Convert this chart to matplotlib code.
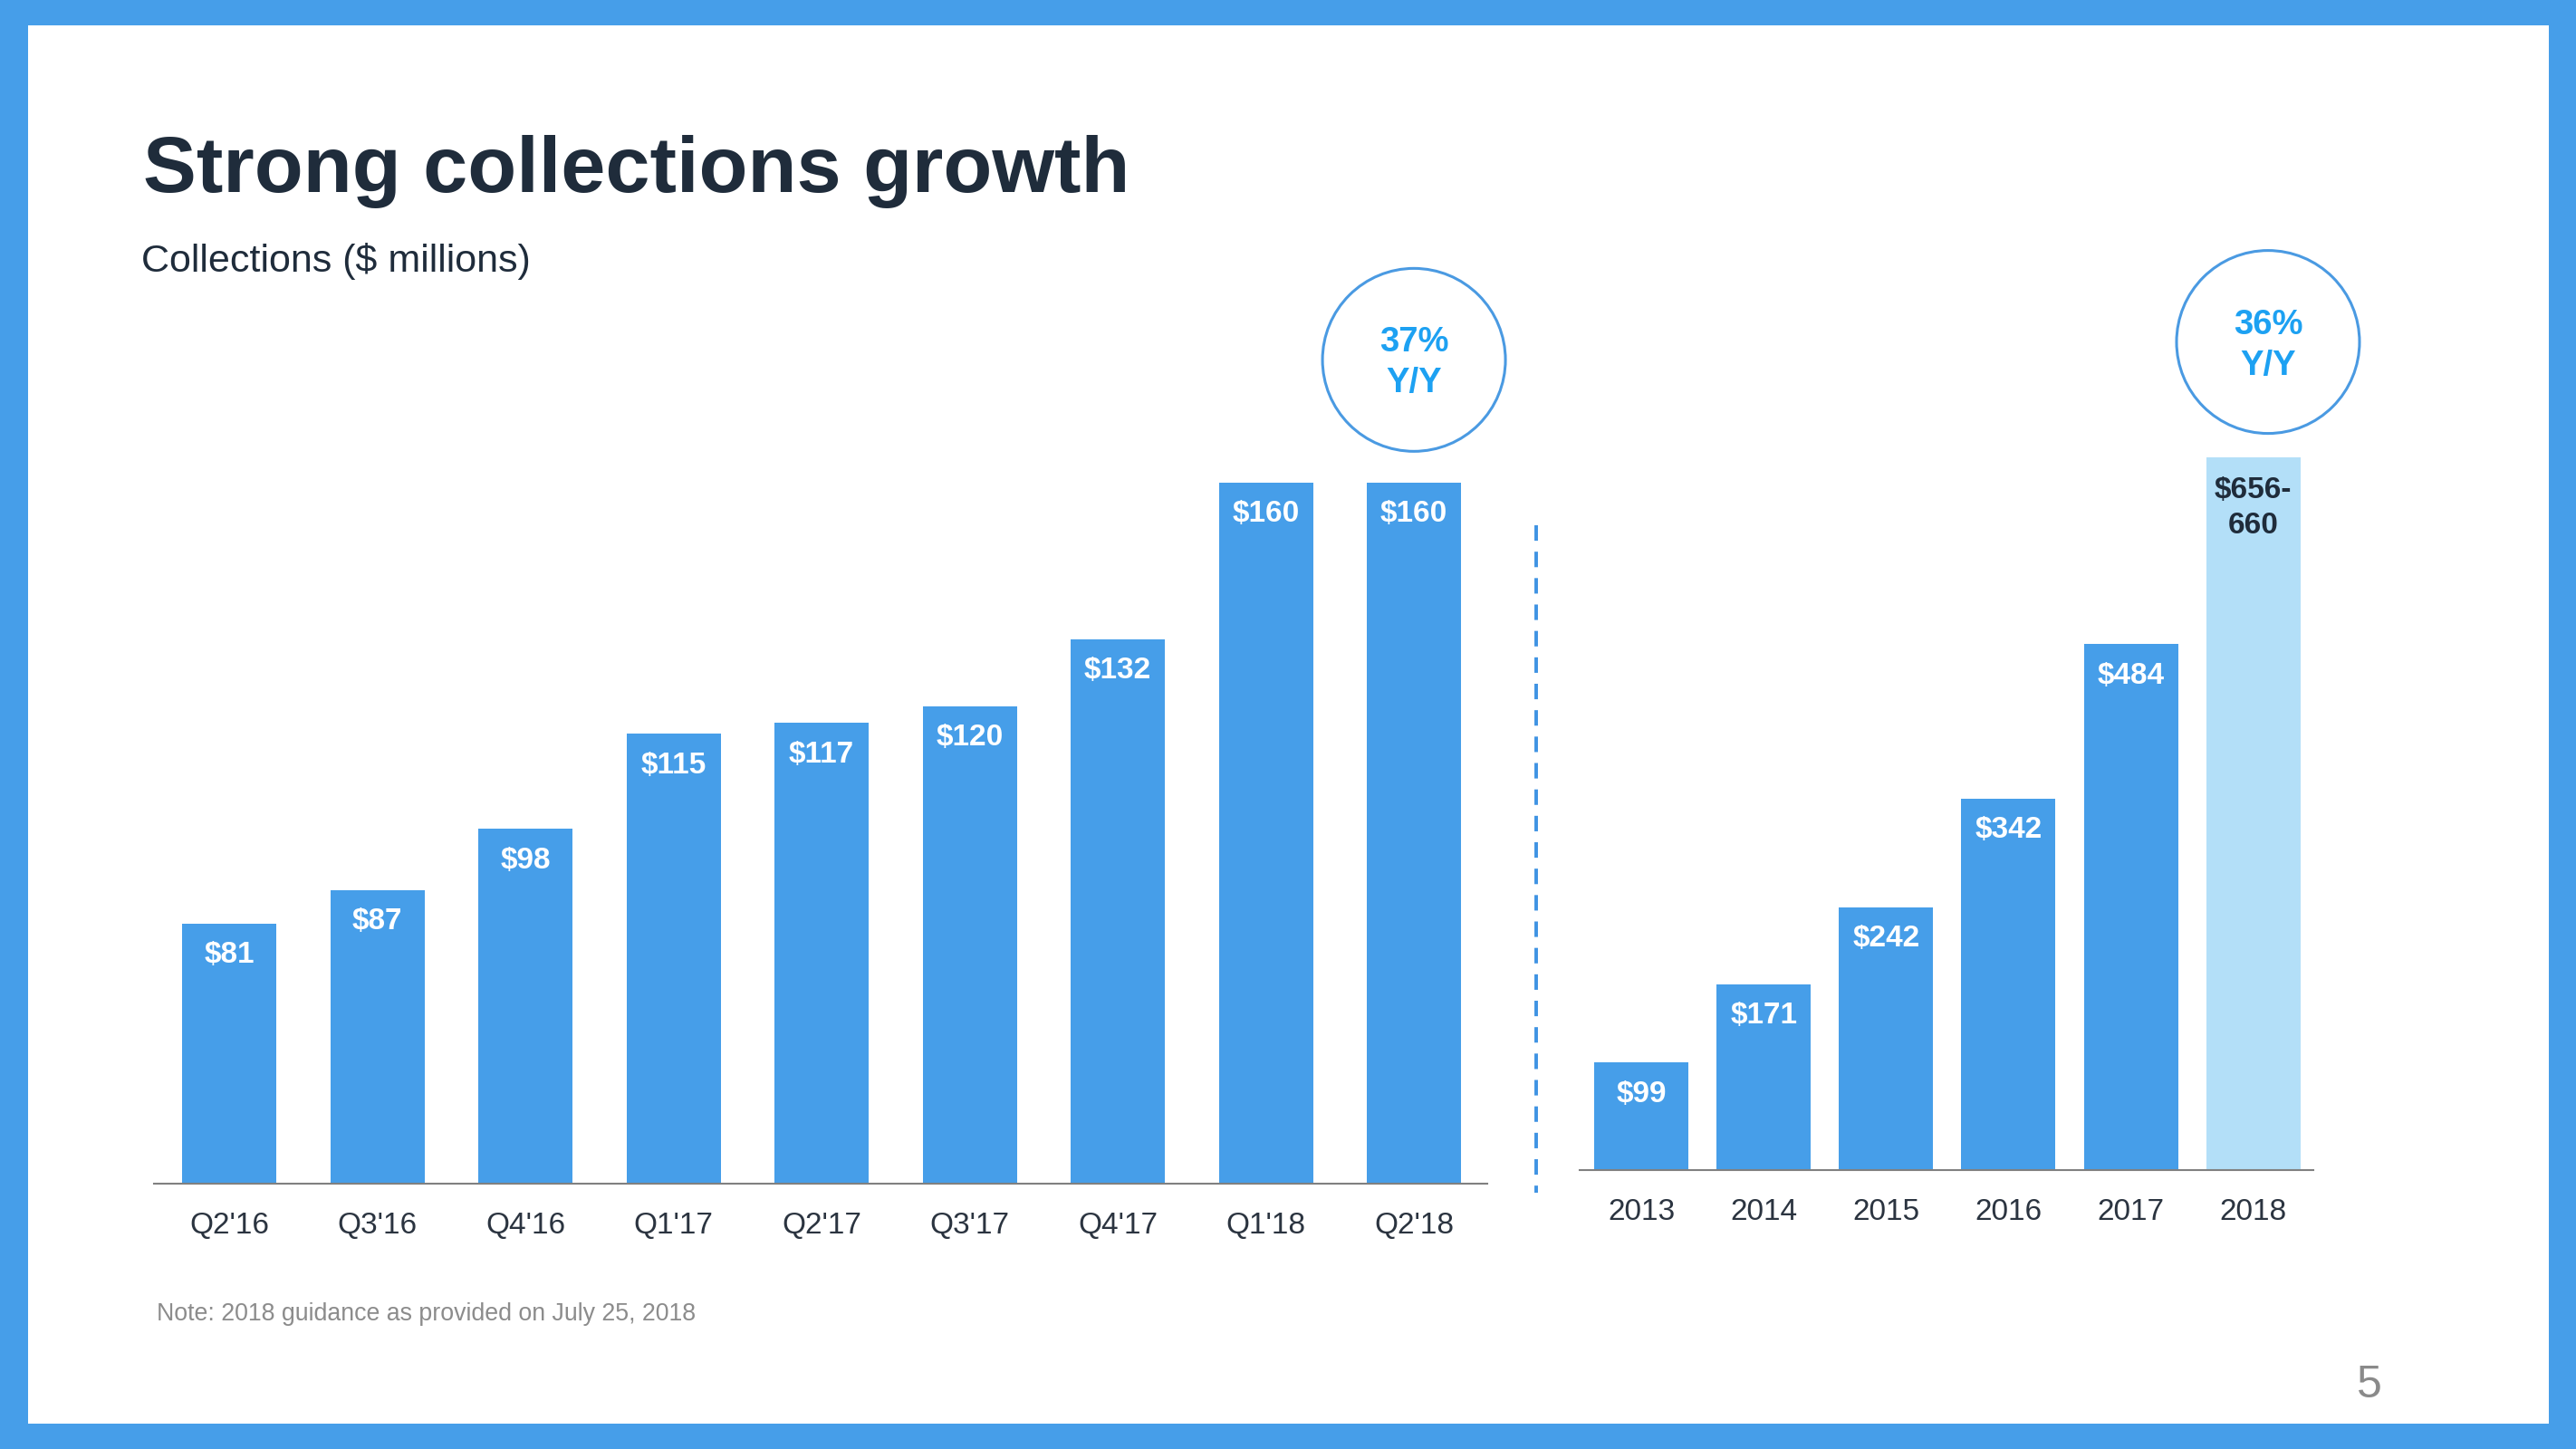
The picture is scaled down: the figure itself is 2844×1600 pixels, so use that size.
import matplotlib
matplotlib.use("Agg")
import matplotlib.pyplot as plt
from matplotlib.patches import Rectangle

# quarterly collections ($M)
quarters = ["Q2'16", "Q3'16", "Q4'16", "Q1'17", "Q2'17", "Q3'17", "Q4'17", "Q1'18", "Q2'18"]
quarter_values = [81, 87, 98, 115, 117, 120, 132, 160, 160]

# annual collections ($M), 2018 is guidance
years = ["2013", "2014", "2015", "2016", "2017", "2018"]
year_values = [99, 171, 242, 342, 484, 656]
guidance_low, guidance_high = 656, 660

quarter_growth = "37%\nY/Y"
year_growth = "36%\nY/Y"

W, H = 2844, 1600
BLUE = "#469ee9"
LIGHT = "#b3dff8"
NAVY = "#1f2c3b"
TEXT_BLUE = "#1da1f2"
RING = "#4a9ae2"
FONT = "Liberation Sans"

plt.rcParams["font.family"] = [FONT, "DejaVu Sans"]

fig = plt.figure(figsize=(W / 100, H / 100), dpi=100, facecolor=BLUE)

# slide background in pixel coordinates
bg = fig.add_axes([0, 0, 1, 1], zorder=0)
bg.set_xlim(0, W)
bg.set_ylim(H, 0)
bg.axis("off")
bg.add_patch(Rectangle((31, 28), 2814 - 31, 1572 - 28, facecolor="white", edgecolor="none"))
bg.text(158, 212, "Strong collections growth", fontsize=63.5, fontweight="bold",
        color=NAVY, va="baseline", ha="left")
bg.text(156, 300, "Collections ($ millions)", fontsize=31, color=NAVY,
        va="baseline", ha="left")
bg.text(173, 1458, "Note: 2018 guidance as provided on July 25, 2018", fontsize=19.3,
        color="#8c8c8c", va="baseline", ha="left")
bg.text(2602, 1543, "5", fontsize=36, color="#8a8a8a", va="baseline", ha="left")
bg.plot([1696, 1696], [580, 1317], color="#3f93e3", lw=2.8, linestyle=(0, (4.4, 3.1)))


def px_axes(x0, x1, y_top, y_base):
    return fig.add_axes([x0 / W, (H - y_base) / H, (x1 - x0) / W, (y_base - y_top) / H],
                        zorder=1, facecolor="none")


def style(ax):
    for side in ("top", "left", "right"):
        ax.spines[side].set_visible(False)
    ax.spines["bottom"].set_color("#808080")
    ax.spines["bottom"].set_linewidth(1.5)
    ax.set_yticks([])
    ax.tick_params(axis="x", length=0, pad=22.5, labelsize=24, labelcolor="#2b3440")


def ring(ax, x, y, label):
    ax.scatter([x], [y], s=21150, facecolors="none", edgecolors=RING, linewidths=2.2,
               clip_on=False, zorder=3)
    ax.annotate(label, (x, y), xytext=(0, -2.5), textcoords="offset points",
                ha="center", va="center", fontsize=27.5, fontweight="bold",
                color=TEXT_BLUE, linespacing=1.32, zorder=4)


# left: quarterly
ax1 = px_axes(170, 1642, 250, 1307)
x1 = list(range(len(quarters)))
ax1.bar(x1, quarter_values, width=0.636, color=BLUE)
ax1.set_xlim(-0.508, 8.495)
ax1.set_ylim(34.45, 34.45 + 1057 / 6.165)
ax1.set_xticks(x1)
ax1.set_xticklabels(quarters)
style(ax1)
for x, v in zip(x1, quarter_values):
    ax1.annotate(f"${v}", (x, v), xytext=(0, -14), textcoords="offset points",
                 ha="center", va="top", fontsize=24, fontweight="bold", color="white")
ring(ax1, x1[-1], 182, quarter_growth)

# right: annual
ax2 = px_axes(1744, 2554, 250, 1292)
x2 = list(range(len(years)))
colors = [BLUE] * (len(years) - 1) + [LIGHT]
ax2.bar(x2, year_values, width=0.77, color=colors)
ax2.set_xlim(-0.503, 5.49)
ax2.set_ylim(0, 1042 / 1.2)
ax2.set_xticks(x2)
ax2.set_xticklabels(years)
style(ax2)
for x, v in zip(x2[:-1], year_values[:-1]):
    ax2.annotate(f"${v}", (x, v), xytext=(0, -14), textcoords="offset points",
                 ha="center", va="top", fontsize=24, fontweight="bold", color="white")
ax2.annotate(f"${guidance_low}-\n{guidance_high}", (x2[-1], year_values[-1]), xytext=(0, -15),
             textcoords="offset points", ha="center", va="top", fontsize=24,
             fontweight="bold", color=NAVY, linespacing=1.35)
ring(ax2, x2[-1] + 0.12, 762, year_growth)

fig.savefig("out.png", dpi=100, facecolor=fig.get_facecolor())
